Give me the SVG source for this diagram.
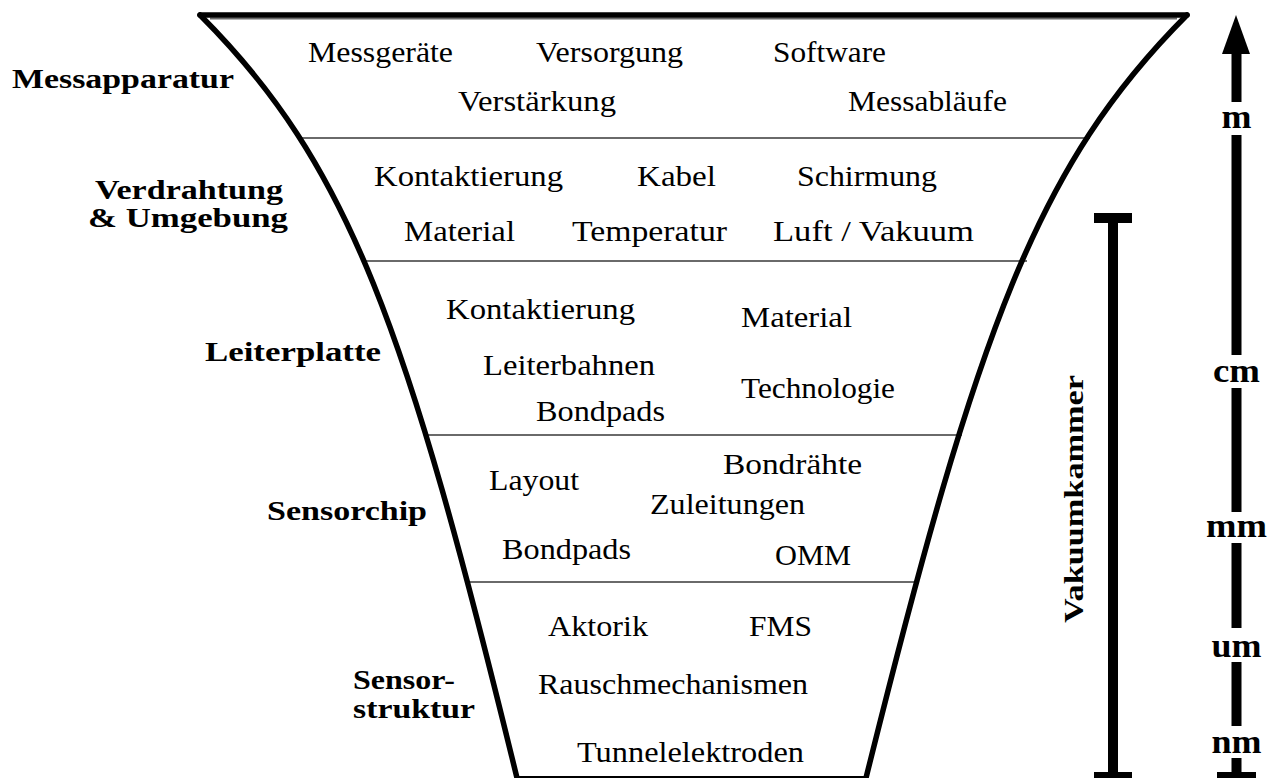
<svg xmlns="http://www.w3.org/2000/svg" width="1272" height="778" viewBox="0 0 1272 778">
  <style>
    .item { font-family: "Liberation Serif", "Times New Roman", serif; font-size: 30px; fill: #000; }
    .label { font-family: "Liberation Serif", "Times New Roman", serif; font-size: 27px; font-weight: bold; fill: #000; }
    .unit { font-family: "Liberation Serif", "Times New Roman", serif; font-size: 33px; font-weight: bold; fill: #000; text-anchor: middle; }
    .wall { fill: none; stroke: #000; stroke-width: 5.5; stroke-linecap: round; }
    .divider { stroke: #6a6a6a; stroke-width: 2; }
    .bar { fill: #000; }
  </style>
  <rect width="1272" height="778" fill="#fff"/>

  <!-- funnel outline and layer dividers -->
  <g id="funnel">
    <line class="divider" x1="210" y1="18.5" x2="1177" y2="18.5"/>
    <line class="divider" x1="299" y1="138" x2="1090" y2="138"/>
    <line class="divider" x1="362" y1="261" x2="1027" y2="261"/>
    <line class="divider" x1="426" y1="435" x2="962" y2="435"/>
    <line class="divider" x1="466" y1="582" x2="918" y2="582"/>
    <line x1="515" y1="777" x2="868" y2="777" stroke="#000" stroke-width="2"/>
    <line class="wall" x1="200" y1="15" x2="1187" y2="15"/>
    <path class="wall" d="M200,15 C350,165 407,328 517,778"/>
    <path class="wall" d="M1187,15 C1037,165 978,328 866,778"/>
  </g>

  <!-- layer 1 -->
  <g id="messapparatur">
    <text class="label" x="12" y="88" textLength="222" lengthAdjust="spacingAndGlyphs">Messapparatur</text>
    <text class="item" x="308" y="62" textLength="145" lengthAdjust="spacingAndGlyphs">Messgeräte</text>
    <text class="item" x="536" y="62" textLength="147" lengthAdjust="spacingAndGlyphs">Versorgung</text>
    <text class="item" x="773" y="62" textLength="113" lengthAdjust="spacingAndGlyphs">Software</text>
    <text class="item" x="458" y="111" textLength="158" lengthAdjust="spacingAndGlyphs">Verstärkung</text>
    <text class="item" x="848" y="111" textLength="159" lengthAdjust="spacingAndGlyphs">Messabläufe</text>
  </g>

  <!-- layer 2 -->
  <g id="verdrahtung">
    <text class="label" x="95" y="199" textLength="188" lengthAdjust="spacingAndGlyphs">Verdrahtung</text>
    <text class="label" x="88" y="227" textLength="200" lengthAdjust="spacingAndGlyphs">&amp; Umgebung</text>
    <text class="item" x="374" y="186" textLength="189" lengthAdjust="spacingAndGlyphs">Kontaktierung</text>
    <text class="item" x="637" y="186" textLength="79" lengthAdjust="spacingAndGlyphs">Kabel</text>
    <text class="item" x="797" y="186" textLength="140" lengthAdjust="spacingAndGlyphs">Schirmung</text>
    <text class="item" x="404" y="241" textLength="111" lengthAdjust="spacingAndGlyphs">Material</text>
    <text class="item" x="572" y="241" textLength="155" lengthAdjust="spacingAndGlyphs">Temperatur</text>
    <text class="item" x="773" y="241" textLength="201" lengthAdjust="spacingAndGlyphs">Luft / Vakuum</text>
  </g>

  <!-- layer 3 -->
  <g id="leiterplatte">
    <text class="label" x="205" y="361" textLength="176" lengthAdjust="spacingAndGlyphs">Leiterplatte</text>
    <text class="item" x="446" y="319" textLength="189" lengthAdjust="spacingAndGlyphs">Kontaktierung</text>
    <text class="item" x="741" y="327" textLength="111" lengthAdjust="spacingAndGlyphs">Material</text>
    <text class="item" x="483" y="375" textLength="172" lengthAdjust="spacingAndGlyphs">Leiterbahnen</text>
    <text class="item" x="741" y="398" textLength="154" lengthAdjust="spacingAndGlyphs">Technologie</text>
    <text class="item" x="536" y="421" textLength="129" lengthAdjust="spacingAndGlyphs">Bondpads</text>
  </g>

  <!-- layer 4 -->
  <g id="sensorchip">
    <text class="label" x="267" y="520" textLength="160" lengthAdjust="spacingAndGlyphs">Sensorchip</text>
    <text class="item" x="723" y="474" textLength="139" lengthAdjust="spacingAndGlyphs">Bondrähte</text>
    <text class="item" x="489" y="490" textLength="90" lengthAdjust="spacingAndGlyphs">Layout</text>
    <text class="item" x="650" y="514" textLength="155" lengthAdjust="spacingAndGlyphs">Zuleitungen</text>
    <text class="item" x="502" y="559" textLength="129" lengthAdjust="spacingAndGlyphs">Bondpads</text>
    <text class="item" x="775" y="565" textLength="76" lengthAdjust="spacingAndGlyphs">OMM</text>
  </g>

  <!-- layer 5 -->
  <g id="sensorstruktur">
    <text class="label" x="353" y="689" textLength="102" lengthAdjust="spacingAndGlyphs">Sensor-</text>
    <text class="label" x="353" y="718" textLength="122" lengthAdjust="spacingAndGlyphs">struktur</text>
    <text class="item" x="548" y="636" textLength="100" lengthAdjust="spacingAndGlyphs">Aktorik</text>
    <text class="item" x="749" y="636" textLength="63" lengthAdjust="spacingAndGlyphs">FMS</text>
    <text class="item" x="538" y="694" textLength="270" lengthAdjust="spacingAndGlyphs">Rauschmechanismen</text>
    <text class="item" x="577" y="762" textLength="227" lengthAdjust="spacingAndGlyphs">Tunnelelektroden</text>
  </g>

  <!-- vacuum chamber range bar -->
  <g id="vakuumkammer">
    <rect class="bar" x="1108" y="213" width="10" height="565"/>
    <rect class="bar" x="1094" y="213" width="38" height="10"/>
    <rect class="bar" x="1094" y="772" width="38" height="10"/>
    <text class="label" transform="translate(1083,499) rotate(-90)" text-anchor="middle" textLength="248" lengthAdjust="spacingAndGlyphs">Vakuumkammer</text>
  </g>

  <!-- length scale axis -->
  <g id="connectors">
    <polygon class="bar" points="1236,15 1222,54 1250,54"/>
    <rect class="bar" x="1231.5" y="52" width="10" height="50"/>
    <rect class="bar" x="1231.5" y="135" width="10" height="220"/>
    <rect class="bar" x="1231.5" y="388" width="10" height="124"/>
    <rect class="bar" x="1231.5" y="543" width="10" height="85"/>
    <rect class="bar" x="1231.5" y="662" width="10" height="64"/>
    <rect class="bar" x="1231.5" y="758" width="10" height="20"/>
    <rect class="bar" x="1217" y="772" width="39" height="10"/>
  </g>
  <g id="scale-labels">
    <text class="unit" x="1236.5" y="128" textLength="30" lengthAdjust="spacingAndGlyphs">m</text>
    <text class="unit" x="1236.5" y="382" textLength="47" lengthAdjust="spacingAndGlyphs">cm</text>
    <text class="unit" x="1236.5" y="537" textLength="61" lengthAdjust="spacingAndGlyphs">mm</text>
    <text class="unit" x="1236.5" y="657" textLength="50" lengthAdjust="spacingAndGlyphs">um</text>
    <text class="unit" x="1236.5" y="753" textLength="50" lengthAdjust="spacingAndGlyphs">nm</text>
  </g>
</svg>
